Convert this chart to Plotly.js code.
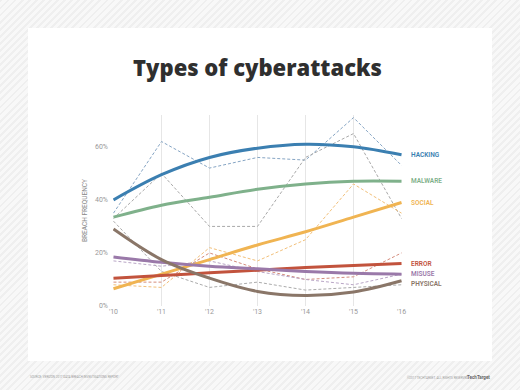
<!DOCTYPE html>
<html>
<head>
<meta charset="utf-8">
<script src="https://cdn.plot.ly/plotly-3.0.1.min.js"></script>
<style>
  html, body { margin:0; padding:0; }
  body {
    width:520px; height:390px; overflow:hidden; position:relative;
    background: repeating-linear-gradient(135deg, #efefef 0px, #efefef 2px, #f8f8f8 2px, #f8f8f8 5px);
  }
  #card { position:absolute; left:28px; top:28px; width:464px; height:333px; background:#ffffff; }
  #chart { position:absolute; left:0; top:0; width:520px; height:390px; }
</style>
</head>
<body>
<div id="card"></div>
<div id="chart"></div>
<script>
// ---- data ----
const years = [2010, 2011, 2012, 2013, 2014, 2015, 2016];
const yearLabels = ["'10", "'11", "'12", "'13", "'14", "'15", "'16"];
const seriesNames = ["HACKING", "MALWARE", "SOCIAL", "ERROR", "MISUSE", "PHYSICAL"];

// yearly breach frequency (%), dashed lines
const hackingRaw  = [35, 62, 52, 56, 55, 71, 53];
const malwareRaw  = [33, 50, 30, 30, 56, 65, 33];
const socialRaw   = [8, 7, 22, 17, 25, 46, 35];
const errorRaw    = [9, 9, 20, 14, 10, 11, 20];
const misuseRaw   = [17, 15, 17, 13, 10, 8, 12];
const physicalRaw = [32, 13, 7, 9, 6, 7, 8];

// smoothed trends (%), solid lines
const hackingTrend  = [40, 49.5, 56, 59.5, 61, 60, 57];
const malwareTrend  = [33.5, 38, 41, 44, 46, 47, 47];
const socialTrend   = [6.5, 12, 17.5, 23, 28, 33.5, 39];
const errorTrend    = [10.5, 11.5, 12.5, 13.5, 14.5, 15.3, 16];
const misuseTrend   = [18.5, 16.5, 15, 14, 13, 12.3, 12];
const physicalTrend = [29, 17.5, 10.5, 5.5, 4, 5.3, 9.5];

const yTickVals = [0, 20, 40, 60];
const yTickText = ["0%", "20%", "40%", "60%"];

// ---- styles ----
const solidColors  = ["#3b7fb1", "#7fb18b", "#f0b452", "#c2533d", "#9a79a9", "#8a7668"];
const dashedColors = ["#86a5c4", "#a9a9a9", "#f2c07a", "#d48c7c", "#b9a6c6", "#ababab"];
const labelShift   = [0, 0, 0, 0, 0, -3];

const raws = [hackingRaw, malwareRaw, socialRaw, errorRaw, misuseRaw, physicalRaw];
const trends = [hackingTrend, malwareTrend, socialTrend, errorTrend, misuseTrend, physicalTrend];

const traces = [];
raws.forEach((r, i) => {
  traces.push({
    x: years, y: r, type: 'scatter', mode: 'lines', name: seriesNames[i] + ' yearly',
    line: { color: dashedColors[i], width: 1, dash: '3px,2px' }, hoverinfo: 'skip', showlegend: false
  });
});
trends.forEach((t, i) => {
  traces.push({
    x: years, y: t, type: 'scatter', mode: 'lines', name: seriesNames[i],
    line: { color: solidColors[i], width: 3, shape: 'spline', smoothing: 1 }, showlegend: false
  });
});

const annotations = seriesNames.map((n, i) => ({
  x: years[years.length - 1], y: trends[i][trends[i].length - 1], xref: 'x', yref: 'y',
  text: n, showarrow: false, xanchor: 'left', yanchor: 'middle', xshift: 7, yshift: labelShift[i],
  font: { family: 'Roboto, sans-serif', size: 6.5, color: solidColors[i], weight: 600 }
}));
annotations.push({
  xref: 'paper', yref: 'paper', x: -85/289, y: -71/191, xanchor: 'left', yanchor: 'middle',
  text: 'SOURCE: VERIZON 2017 DATA BREACH INVESTIGATIONS REPORT', showarrow: false,
  font: { family: 'Roboto, sans-serif', size: 3, color: '#999999' }
});
annotations.push({
  xref: 'paper', yref: 'paper', x: 357/289, y: -71/191, xanchor: 'right', yanchor: 'middle',
  text: '©2017 TECHTARGET. ALL RIGHTS RESERVED', showarrow: false,
  font: { family: 'Roboto, sans-serif', size: 3, color: '#999999' }
});
annotations.push({
  xref: 'paper', yref: 'paper', x: 379/289, y: -71/191, xanchor: 'right', yanchor: 'middle',
  text: '<b>TechTarget</b>', showarrow: false,
  font: { family: 'Roboto, sans-serif', size: 4.5, color: '#666666' }
});

const layout = {
  width: 520, height: 390,
  paper_bgcolor: 'rgba(0,0,0,0)', plot_bgcolor: 'rgba(0,0,0,0)',
  margin: { l: 113, r: 118, t: 115, b: 84, pad: 0 },
  title: {
    text: 'Types of cyberattacks', x: 0.5, xref: 'paper', xanchor: 'center',
    y: 1 - 68/390, yref: 'container', yanchor: 'middle',
    font: { family: '"Open Sans", sans-serif', size: 22, color: '#2f2f2f', weight: 800 }
  },
  xaxis: {
    range: [2009.99, 2016.01], tickvals: years, ticktext: yearLabels,
    showgrid: true, gridcolor: '#e6e6e6', gridwidth: 1, zeroline: false, showline: false,
    ticks: '', tickfont: { family: 'Roboto, sans-serif', size: 7, color: '#999999' }, fixedrange: true
  },
  yaxis: {
    range: [0, 72], tickvals: yTickVals, ticktext: yTickText,
    showgrid: false, zeroline: false, showline: false, ticks: '', ticklabelstandoff: 4,
    tickfont: { family: 'Roboto, sans-serif', size: 7, color: '#999999' },
    title: { text: 'BREACH FREQUENCY', standoff: 6, font: { family: 'Roboto, sans-serif', size: 6.5, color: '#888888' } },
    fixedrange: true
  },
  annotations: annotations,
  showlegend: false,
  hovermode: false
};

Plotly.newPlot('chart', traces, layout, { displayModeBar: false, staticPlot: true });
</script>
</body>
</html>
